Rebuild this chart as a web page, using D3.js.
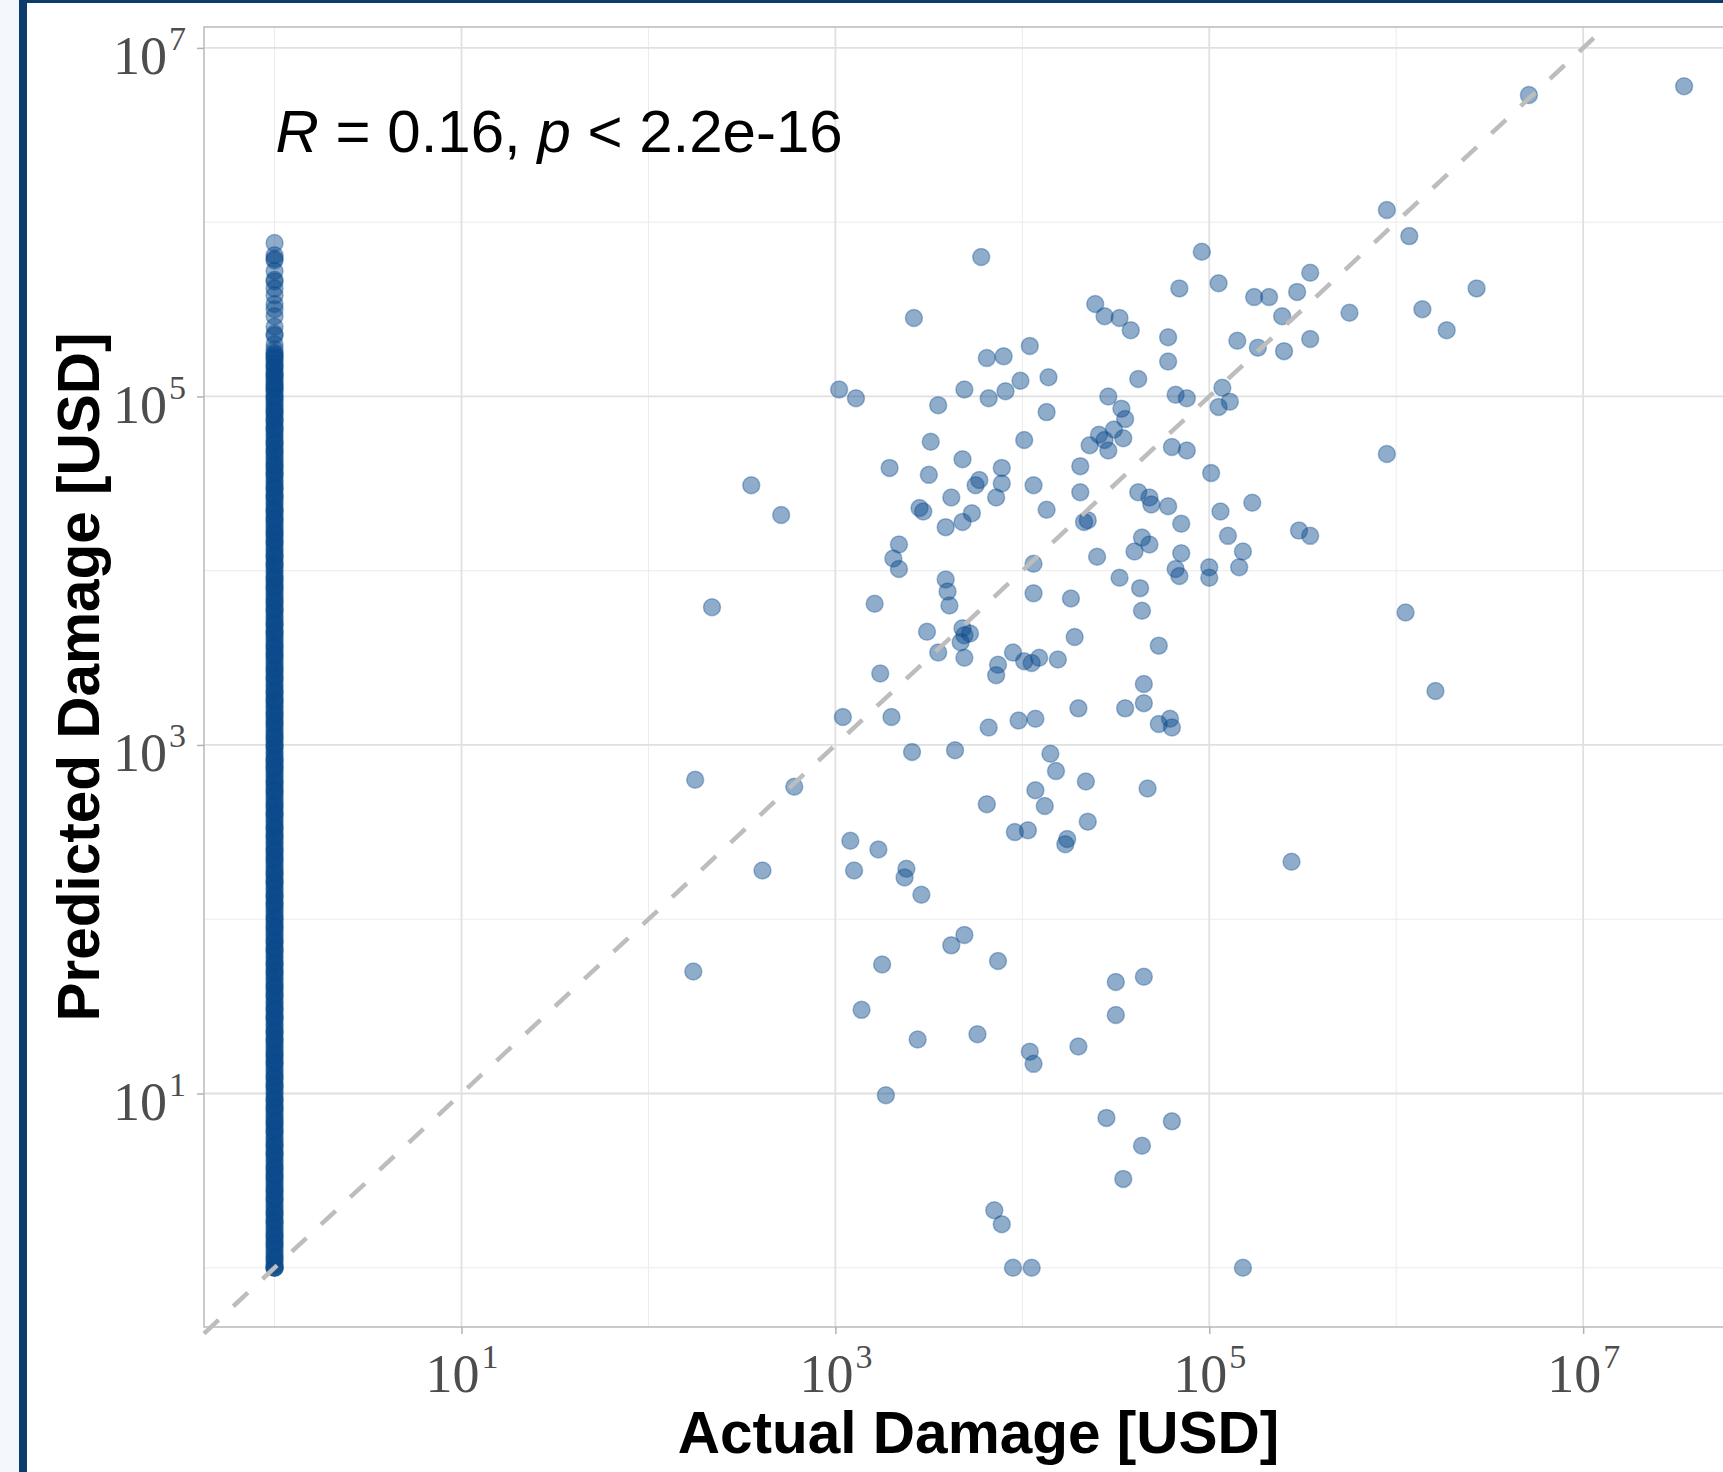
<!DOCTYPE html>
<meta charset="utf-8">
<style>
body { margin: 0; background: #fff; }
</style>
<svg id="chart" width="1723" height="1472"></svg>
<script src="https://cdn.jsdelivr.net/npm/d3@7"></script>
<script>

// events with a recorded damage: log10 of actual and predicted damage (USD)
var actualLog10 = [
  7.54, 6.71, 5.95, 6.07, 6.43, 6.14, 6.27, 5.75, 5.54, 5.47, 5.39, 5.54, 5.40, 5.32, 5.24, 5.26, 5.15, 5.05, 4.96, 4.84,
  5.07, 5.11, 5.05, 4.88, 4.82, 4.78, 4.78, 4.80, 4.88, 5.01, 5.06, 5.10, 5.18, 5.16, 5.23, 5.00, 5.00, 4.85, 4.85, 4.82,
  4.84, 5.95, 5.48, 5.54, 6.05, 6.21, 5.44, 5.18, 4.62, 4.46, 4.53, 4.55, 4.49, 4.41, 4.44, 4.36, 4.46, 4.54, 4.58, 4.52,
  4.44, 4.39, 4.62, 4.68, 4.69, 4.78, 4.68, 4.64, 4.60, 4.63, 4.64, 4.52, 4.40, 4.73, 4.65, 4.65, 4.55, 4.79, 4.73, 4.80,
  4.67, 4.65, 4.50, 4.50, 4.80, 4.45, 4.64, 4.54, 4.31, 4.31, 4.33, 4.35, 4.26, 4.28, 4.19, 4.09, 4.05, 3.95, 4.01, 4.30,
  4.14, 4.04, 3.99, 4.13, 4.01, 4.13, 4.06, 4.06, 4.06, 4.07, 3.98, 4.15, 4.18, 4.07, 4.12, 4.34, 4.35, 4.24, 4.23, 4.03,
  3.96, 4.30, 4.04, 4.06, 3.95, 4.05, 3.85, 3.89, 3.78, 3.81, 3.90, 3.69, 3.82, 3.91, 3.68, 3.89, 3.77, 3.75, 3.89, 3.86,
  3.62, 3.73, 3.68, 3.59, 3.59, 3.60, 3.61, 3.68, 3.72, 3.69, 3.67, 3.69, 3.87, 3.86, 3.49, 3.55, 3.82, 3.64, 3.81, 3.62,
  3.69, 3.87, 3.76, 3.51, 3.55, 3.50, 3.42, 3.45, 3.47, 3.29, 3.34, 3.31, 3.34, 3.21, 3.24, 3.30, 3.41, 3.04, 3.02, 3.11,
  3.08, 3.10, 3.23, 3.38, 3.37, 3.46, 3.25, 3.14, 3.44, 3.27, 2.55, 2.71, 2.34, 2.25, 2.78, 2.61, 2.24
];
var predictedLog10 = [
  6.78, 6.73, 6.07, 5.92, 5.62, 5.50, 5.38, 5.48, 5.71, 5.60, 5.46, 5.33, 5.26, 5.57, 5.57, 5.28, 5.32, 5.65, 5.83, 5.62,
  5.05, 4.97, 4.94, 4.99, 5.01, 5.34, 5.20, 4.71, 4.69, 4.56, 4.34, 4.20, 4.11, 4.02, 4.39, 4.02, 3.96, 4.27, 4.10, 4.01,
  3.97, 4.67, 4.23, 4.20, 3.76, 3.31, 2.33, 0.00, 5.10, 5.00, 4.93, 4.87, 4.81, 4.78, 4.75, 4.72, 4.69, 4.76, 5.38, 5.45,
  5.46, 5.53, 4.45, 4.42, 4.38, 4.37, 4.15, 4.19, 4.11, 3.90, 3.77, 3.96, 4.08, 3.57, 3.35, 3.24, 3.21, 3.15, 3.12, 3.10,
  2.75, 1.67, 1.64, 1.45, 0.84, 0.86, 0.70, 0.51, 4.60, 4.45, 4.28, 4.29, 3.84, 3.62, 3.49, 3.50, 3.47, 3.53, 3.48, 3.21,
  5.11, 5.29, 5.09, 4.91, 4.75, 4.35, 4.49, 4.04, 3.87, 3.15, 3.14, 2.95, 2.85, 2.74, 2.65, 2.79, 2.56, 2.46, 2.43, 2.51,
  2.50, 1.27, 1.24, 1.17, 0.00, 0.00, 0.33, 0.25, 5.80, 5.22, 5.23, 5.04, 4.99, 5.03, 4.64, 4.59, 4.52, 4.49, 4.50, 4.42,
  4.42, 4.33, 4.28, 4.25, 3.95, 3.88, 3.80, 3.67, 3.64, 3.63, 3.59, 3.50, 3.46, 3.40, 3.65, 3.53, 3.10, 2.97, 2.66, 1.85,
  1.91, 1.76, 1.34, 4.74, 4.95, 4.55, 5.45, 4.36, 4.34, 4.59, 4.15, 4.07, 4.01, 3.81, 3.41, 3.16, 2.96, 3.16, 5.04, 4.99,
  2.45, 2.28, 2.40, 2.29, 2.24, 2.14, 1.74, 1.48, 1.31, 0.99, 4.49, 4.32, 3.79, 2.80, 2.76, 2.28, 1.70
];

// events with zero recorded damage (drawn at 1 USD): log10 of predicted damage
var zeroActualPredLog10 = [
  5.88, 5.81, 5.79, 5.78, 5.72, 5.67, 5.66, 5.62, 5.58, 5.53, 5.50, 5.46, 5.40, 5.36, 5.35, 5.30, 5.27,
  5.25, 5.23, 5.21, 5.18, 5.17, 5.14, 5.12, 5.10, 5.07, 5.05, 5.03, 5.00, 4.98, 4.95, 4.92, 4.90, 4.87,
  4.85, 4.82, 4.80, 4.77, 4.74, 4.72, 4.69, 4.67, 4.64, 4.61, 4.59, 4.56, 4.54, 4.51, 4.48, 4.46, 4.43,
  4.41, 4.38, 4.35, 4.33, 4.30, 4.28, 4.25, 4.22, 4.20, 4.17, 4.15, 4.12, 4.09, 4.07, 4.04, 4.02, 3.99,
  3.96, 3.94, 3.91, 3.89, 3.86, 3.83, 3.81, 3.78, 3.76, 3.73, 3.70, 3.68, 3.65, 3.63, 3.60, 3.57, 3.55,
  3.52, 3.50, 3.47, 3.44, 3.42, 3.39, 3.37, 3.34, 3.31, 3.29, 3.26, 3.24, 3.21, 3.18, 3.16, 3.13, 3.11,
  3.08, 3.05, 3.03, 3.00, 2.98, 2.95, 2.92, 2.90, 2.87, 2.85, 2.82, 2.79, 2.77, 2.74, 2.72, 2.69, 2.66,
  2.64, 2.61, 2.59, 2.56, 2.53, 2.51, 2.48, 2.46, 2.43, 2.40, 2.38, 2.35, 2.33, 2.30, 2.27, 2.25, 2.22,
  2.20, 2.17, 2.14, 2.12, 2.09, 2.07, 2.04, 2.01, 1.99, 1.96, 1.94, 1.91, 1.88, 1.86, 1.83, 1.81, 1.78,
  1.75, 1.73, 1.70, 1.68, 1.65, 1.62, 1.60, 1.57, 1.55, 1.52, 1.49, 1.47, 1.44, 1.42, 1.39, 1.36, 1.34,
  1.31, 1.29, 1.26, 1.23, 1.21, 1.18, 1.16, 1.13, 1.10, 1.08, 1.05, 1.03, 1.00, 0.97, 0.95, 0.92, 0.90,
  0.87, 0.84, 0.82, 0.79, 0.77, 0.74, 0.71, 0.69, 0.66, 0.64, 0.61, 0.58, 0.56, 0.53, 0.51, 0.48, 0.45,
  0.43, 0.40, 0.38, 0.35, 0.32, 0.30, 0.27, 0.25, 0.22, 0.19, 0.17, 0.14, 0.12, 0.09, 0.06, 0.04, 0.01,
  0.00, 0.00, 0.00,
  5.24, 5.22, 5.19, 5.16, 5.13, 5.11, 5.08, 5.06, 5.04, 5.01, 4.99, 4.96, 4.93, 4.91, 4.88, 4.86, 4.83,
  4.81, 4.78, 4.75, 4.73, 4.70, 4.68, 4.65, 4.62, 4.60, 4.57, 4.55, 4.52, 4.49, 4.47, 4.44, 4.42, 4.39,
  4.36, 4.34, 4.31, 4.29, 4.26, 4.23, 4.21, 4.18, 4.16, 4.13, 4.10, 4.08, 4.05, 4.03, 4.00, 3.97, 3.95,
  3.92, 3.90, 3.87, 3.84, 3.82, 3.79, 3.77, 3.74, 3.71, 3.69, 3.66, 3.64, 3.61, 3.58, 3.56, 3.53, 3.51,
  3.48, 3.45, 3.43, 3.40, 3.38, 3.35, 3.32, 3.30, 3.27, 3.25, 3.22, 3.19, 3.17, 3.14, 3.12, 3.09, 3.06,
  3.04, 3.01, 2.99, 2.96, 2.93, 2.91, 2.88, 2.86, 2.83, 2.80, 2.78, 2.75, 2.73, 2.70, 2.67, 2.65, 2.62,
  2.60, 2.57, 2.54, 2.52, 2.49, 2.47, 2.44, 2.41, 2.39, 2.36, 2.34, 2.31, 2.28, 2.26, 2.23, 2.21, 2.18,
  2.15, 2.13, 2.10, 2.08, 2.05, 2.02, 2.00, 1.97, 1.95, 1.92, 1.89, 1.87, 1.84, 1.82, 1.79, 1.76, 1.74,
  1.71, 1.69, 1.66, 1.63, 1.61, 1.58, 1.56, 1.53, 1.50, 1.48, 1.45, 1.43, 1.40, 1.37, 1.35, 1.32, 1.30,
  1.27, 1.24, 1.22, 1.19, 1.17, 1.14, 1.11, 1.09, 1.06, 1.04, 1.01, 0.98, 0.96, 0.93, 0.91, 0.88, 0.85,
  0.83, 0.80, 0.78, 0.75, 0.72, 0.70, 0.67, 0.65, 0.62, 0.59, 0.57, 0.54, 0.52, 0.49, 0.46, 0.44, 0.41,
  0.39, 0.36, 0.33, 0.31, 0.28, 0.26, 0.23, 0.20, 0.18, 0.15, 0.13, 0.10, 0.07, 0.05, 0.02
];

var majorExp = [1, 3, 5, 7];
var minorExp = [0, 2, 4, 6, 8];
var xTitle = "Actual Damage [USD]";
var yTitle = "Predicted Damage [USD]";

var svg = d3.select("#chart");
var width = +svg.attr("width");
var height = +svg.attr("height");

var pL = 204, pT = 27, pB = 1327, pR = 1757;
var ptCol = "#0a4a8c";

var x = d3.scaleLog()
  .domain([Math.pow(10, -0.3775), Math.pow(10, 7.93)])
  .range([pL, pR]);
var y = d3.scaleLog()
  .domain([Math.pow(10, -0.34), Math.pow(10, 7.12)])
  .range([pB, pT]);

// page frame
svg.append("rect").attr("width", width).attr("height", height).attr("fill", "#fff");
svg.append("rect").attr("x", 0).attr("y", 0).attr("width", 19).attr("height", height).attr("fill", "#f4f8fd");
svg.append("rect").attr("x", 19).attr("y", 0).attr("width", 8).attr("height", height).attr("fill", "#0c3c6e");
svg.append("rect").attr("x", 19).attr("y", 0).attr("width", width - 19).attr("height", 3).attr("fill", "#0c3c6e");

// grid
var grid = svg.append("g");
grid.selectAll(".vmin").data(minorExp).enter().append("line")
  .attr("x1", function(d) { return x(Math.pow(10, d)); })
  .attr("x2", function(d) { return x(Math.pow(10, d)); })
  .attr("y1", pT).attr("y2", pB)
  .attr("stroke", "#ebebeb").attr("stroke-width", 1);
grid.selectAll(".hmin").data(minorExp.filter(function(d) { return d < 7; })).enter().append("line")
  .attr("y1", function(d) { return y(Math.pow(10, d)); })
  .attr("y2", function(d) { return y(Math.pow(10, d)); })
  .attr("x1", pL).attr("x2", pR)
  .attr("stroke", "#ebebeb").attr("stroke-width", 1);
grid.selectAll(".vmaj").data(majorExp).enter().append("line")
  .attr("x1", function(d) { return x(Math.pow(10, d)); })
  .attr("x2", function(d) { return x(Math.pow(10, d)); })
  .attr("y1", pT).attr("y2", pB)
  .attr("stroke", "#e0e0e0").attr("stroke-width", 1.8);
grid.selectAll(".hmaj").data(majorExp).enter().append("line")
  .attr("y1", function(d) { return y(Math.pow(10, d)); })
  .attr("y2", function(d) { return y(Math.pow(10, d)); })
  .attr("x1", pL).attr("x2", pR)
  .attr("stroke", "#e0e0e0").attr("stroke-width", 1.8);

// points
var pts = [];
zeroActualPredLog10.forEach(function(p) { pts.push([1, Math.pow(10, p)]); });
actualLog10.forEach(function(a, i) { pts.push([Math.pow(10, a), Math.pow(10, predictedLog10[i])]); });

svg.append("g").selectAll("circle").data(pts).enter().append("circle")
  .attr("cx", function(d) { return x(d[0]); })
  .attr("cy", function(d) { return y(d[1]); })
  .attr("r", 8.5)
  .attr("fill", ptCol).attr("fill-opacity", 0.46)
  .attr("stroke", ptCol).attr("stroke-opacity", 0.35).attr("stroke-width", 1.5);

// 1:1 line
var lo = x.domain()[0];
var hi = Math.min(x.domain()[1], y.domain()[1]);
svg.append("line")
  .attr("x1", x(lo)).attr("y1", y(lo))
  .attr("x2", x(hi)).attr("y2", y(hi))
  .attr("stroke", "#bdbdbd").attr("stroke-width", 4.5)
  .attr("stroke-dasharray", "20,20");

// panel border
svg.append("rect")
  .attr("x", pL).attr("y", pT)
  .attr("width", pR - pL).attr("height", pB - pT)
  .attr("fill", "none").attr("stroke", "#bdbdbd").attr("stroke-width", 1.6);

// axes
function powLabel(sel) {
  sel.each(function(d) {
    var t = d3.select(this);
    var e = Math.round(Math.log10(d));
    t.text("10");
    t.append("tspan").attr("dx", 2).attr("dy", -24).attr("font-size", 34).text(e);
  });
}

var xAxis = svg.append("g")
  .attr("transform", "translate(0," + pB + ")")
  .call(d3.axisBottom(x).tickValues(majorExp.map(function(e) { return Math.pow(10, e); })).tickSize(7));
xAxis.select(".domain").remove();
xAxis.selectAll(".tick line").attr("stroke", "#b3b3b3").attr("stroke-width", 1.5);
xAxis.selectAll(".tick text")
  .attr("y", 65).attr("dy", 0)
  .attr("font-family", "'Liberation Serif', 'Times New Roman', serif")
  .attr("font-size", 54).attr("fill", "#4d4d4d")
  .call(powLabel);

var yAxis = svg.append("g")
  .attr("transform", "translate(" + pL + ",0)")
  .call(d3.axisLeft(y).tickValues(majorExp.map(function(e) { return Math.pow(10, e); })).tickSize(7));
yAxis.select(".domain").remove();
yAxis.selectAll(".tick line").attr("stroke", "#b3b3b3").attr("stroke-width", 1.5);
yAxis.selectAll(".tick text")
  .attr("x", -18).attr("y", 26).attr("dy", 0)
  .attr("font-family", "'Liberation Serif', 'Times New Roman', serif")
  .attr("font-size", 54).attr("fill", "#4d4d4d")
  .call(powLabel);

// titles
svg.append("text")
  .attr("x", (pL + pR) / 2 - 2).attr("y", 1453)
  .attr("text-anchor", "middle")
  .attr("font-family", "'Liberation Sans', Arial, sans-serif")
  .attr("font-weight", "bold").attr("font-size", 58.5)
  .text(xTitle);

svg.append("text")
  .attr("transform", "translate(99," + (pT + pB) / 2 + ") rotate(-90)")
  .attr("text-anchor", "middle")
  .attr("font-family", "'Liberation Sans', Arial, sans-serif")
  .attr("font-weight", "bold").attr("font-size", 58.5)
  .text(yTitle);

// correlation label
var lab = svg.append("text")
  .attr("x", x(1) + 1).attr("y", y(Math.pow(10, 6.4)))
  .attr("font-family", "'Liberation Sans', Arial, sans-serif")
  .attr("font-size", 60).attr("fill", "#000");
lab.append("tspan").attr("font-style", "italic").text("R");
lab.append("tspan").text(" = 0.16, ");
lab.append("tspan").attr("font-style", "italic").text("p");
lab.append("tspan").text(" < 2.2e-16");

</script>
